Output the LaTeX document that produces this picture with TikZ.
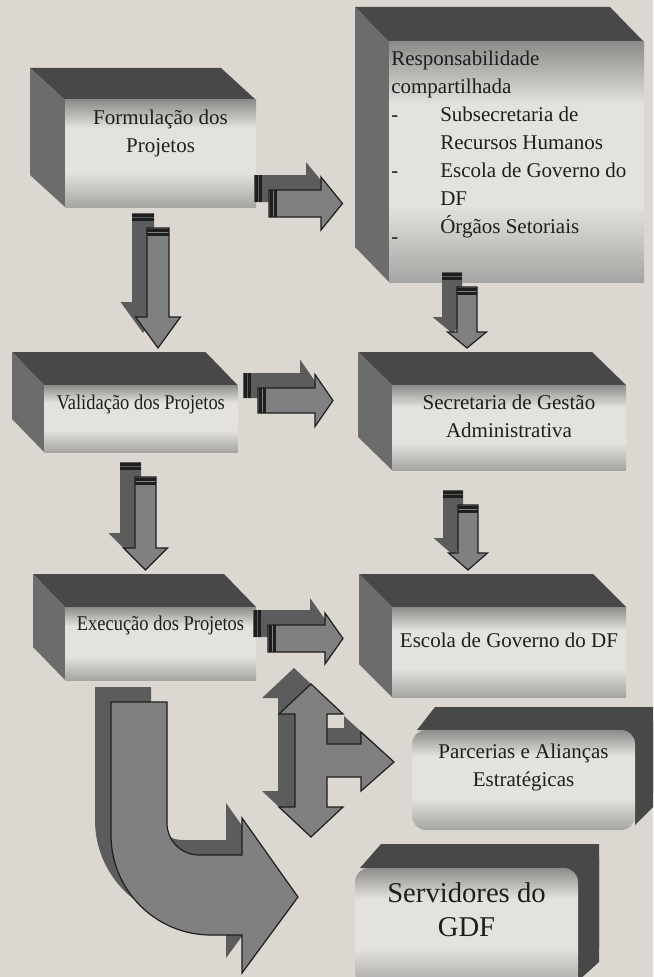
\documentclass[tikz,border=0pt]{standalone}
\usepackage{fontspec}
\setmainfont{Liberation Serif}
\newfontfamily\narrowfont{Liberation Serif}[FakeStretch=0.88]
\usepackage[HTML]{xcolor}
\usepackage{tikz}
\usetikzlibrary{calc}
\pgfdeclarelayer{back}
\pgfsetlayers{back,main}

\definecolor{bgpaper}{HTML}{DCD8D1}
\definecolor{topface}{HTML}{484848}
\definecolor{sideface}{HTML}{6C6C6C}
\definecolor{facetop}{HTML}{8C8C8A}
\definecolor{facemid}{HTML}{E4E2DE}
\definecolor{facebot}{HTML}{A5A5A3}
\definecolor{arrdark}{HTML}{5C5C5C}
\definecolor{arrmid}{HTML}{808080}
\definecolor{arrline}{HTML}{1E1E1E}
\definecolor{ink}{HTML}{1E1E1E}
\newcommand{\pxu}{0.75pt}
% light band in the middle of each front face
\pgfdeclareverticalshading{boxface}{100bp}{color(0bp)=(facebot); color(25bp)=(facebot);
  color(41bp)=(facemid); color(62bp)=(facemid); color(75bp)=(facetop); color(100bp)=(facetop)}

\tikzset{
  pics/blockarr/.style n args={4}{code={
    \path[pic actions] (0,-#2) -- (#1-#4,-#2) -- (#1-#4,-#3) -- (#1,0)
      -- (#1-#4,#3) -- (#1-#4,#2) -- (0,#2) -- cycle;
    \foreach \t in {1,5} \fill[arrline] (\t,-#2) rectangle ++(2.5,2*#2);
  }},
  pics/teearr/.style={code={
    \path[pic actions] (0,0) -- (32,30) -- (16,30) -- (16,60) -- (50,60) -- (50,48)
      -- (83,78) -- (50,107) -- (50,93) -- (16,93) -- (16,123) -- (32,123)
      -- (0,153) -- (-32,123) -- (-16,123) -- (-16,30) -- (-32,30) -- cycle;
  }},
  pics/uarr/.style={code={
    \path[pic actions] (0,0) -- (56,0) -- (56,121) arc (180:90:32) -- (131,153)
      -- (131,116) -- (187,195) -- (131,271) -- (131,233) -- (100,233)
      arc (90:180:100) -- cycle;
  }},
}

\begin{document}
\begin{tikzpicture}[x=0.75pt, y=-0.75pt,
  frontface/.style={shade, shading=boxface, inner sep=0, outer sep=0},
  boxtext/.style={text=ink, align=center, inner sep=0, font=\fontsize{15.75}{21}\selectfont},
  narrowtext/.style={font=\narrowfont\fontsize{15.75}{21}\selectfont},
  arrback/.style={fill=arrdark},
  arrfront/.style={fill=arrmid, draw=arrline, line width=0.9pt}]
\useasboundingbox (0,0) rectangle (653,977);
% front faces
\node[frontface, minimum width=191*\pxu, minimum height=107*\pxu] (form) at (160.5,153.5) {};
\node[frontface, minimum width=255*\pxu, minimum height=240*\pxu] (resp) at (516.5,162) {};
\node[frontface, minimum width=193.5*\pxu, minimum height=67*\pxu] (valid) at (140.75,418.5) {};
\node[frontface, minimum width=234*\pxu, minimum height=85*\pxu] (secr) at (509,427.5) {};
\node[frontface, minimum width=191*\pxu, minimum height=73*\pxu] (exec) at (160.5,643.5) {};
\node[frontface, minimum width=234*\pxu, minimum height=90*\pxu] (escola) at (509,652) {};
\node[frontface, rounded corners=10.5pt, minimum width=223*\pxu, minimum height=100*\pxu] (parc) at (523.5,780) {};
\node[frontface, rounded corners=10.5pt, minimum width=223*\pxu, minimum height=118*\pxu] (serv) at (466.5,927) {};
% texts
\node[boxtext] (formtxt) at ($(form)+(0,-20.3)$) {Formulação dos\\Projetos};
\node[boxtext, anchor=north west, align=left] (resptxt) at ($(resp.north west)+(2,9)$)
  {Responsabilidade\\compartilhada\\
   \makebox[36.75pt][l]{-}Subsecretaria de\\
   \hspace*{36.75pt}Recursos Humanos\\
   \makebox[36.75pt][l]{-}Escola de Governo do\\
   \hspace*{36.75pt}DF\\
   \makebox[36.75pt][l]{\raisebox{-7.5pt}{-}}Órgãos Setoriais};
\node[boxtext, narrowtext] (validtxt) at ($(valid)+(0,-14.5)$) {Validação dos Projetos};
\node[boxtext] (secrtxt) at ($(secr)+(0,-11.6)$) {Secretaria de Gestão\\Administrativa};
\node[boxtext, narrowtext] (exectxt) at ($(exec)+(0,-18.5)$) {Execução dos Projetos};
\node[boxtext] (escolatxt) at ($(escola)+(0,-12)$) {Escola de Governo do DF};
\node[boxtext] (parctxt) at ($(parc)+(0,-13)$) {Parcerias e Alianças\\Estratégicas};
\node[boxtext, font=\fontsize{21.5}{25.5}\selectfont] (servtxt) at ($(serv)+(0,-17)$) {Servidores do\\GDF};
% depth faces and paper
\begin{pgfonlayer}{back}
\fill[bgpaper] (0,0) rectangle (653,977);
\foreach \n/\dx/\dy in {form/-35/-32, resp/-34/-35, valid/-32/-33, secr/-34/-33, exec/-32/-33, escola/-33/-33} {
  \fill[topface] (\n.north west) -- ++(\dx,\dy) -- ($(\n.north east)+(\dx,\dy)$) -- (\n.north east) -- cycle;
  \fill[sideface] (\n.north west) -- ++(\dx,\dy) -- ($(\n.south west)+(\dx,\dy)$) -- (\n.south west) -- cycle;
}
\foreach \n/\dx/\dy in {parc/18/-23, serv/21/-24} {
  \fill[topface, rounded corners=10.5pt] ($(\n.north west)+(\dx,\dy)$) rectangle ($(\n.south east)+(\dx,\dy)$);
  \fill[topface] ($(\n.north west)+(5,0)$) -- ++(\dx,\dy) -- ($(\n.north east)+(\dx,\dy)$)
    -- ($(\n.south east)+(\dx,\dy)$) -- ($(\n.south east)+(0,-5)$) -- (\n.north east) -- cycle;
}
\end{pgfonlayer}
% block arrows, shadow first
\pic[arrback] at ($(form.east)+(-2,35)$) {blockarr={73.5}{13.5}{26.5}{21.5}};
\pic[arrfront] at ($(form.east)+(13,50)$) {blockarr={73.5}{13.5}{26.5}{21.5}};
\pic[arrback, rotate=-90] at ($(form.south)+(-17.5,6)$) {blockarr={120}{11}{22.5}{31}};
\pic[arrfront, rotate=-90] at ($(form.south)+(-2.5,21)$) {blockarr={120}{11}{22.5}{31}};
\pic[arrback, rotate=-90] at ($(resp.south)+(-64.5,-10)$) {blockarr={61}{10}{19.5}{16}};
\pic[arrfront, rotate=-90] at ($(resp.south)+(-49.5,5)$) {blockarr={61}{10}{19.5}{16}};
\pic[arrback] at ($(valid.east)+(5.5,-33)$) {blockarr={75}{12.5}{26}{18}};
\pic[arrfront] at ($(valid.east)+(20.5,-18)$) {blockarr={75}{12.5}{26}{18}};
\pic[arrback, rotate=-90] at ($(valid.south)+(-10.25,10)$) {blockarr={93}{10.5}{22}{22}};
\pic[arrfront, rotate=-90] at ($(valid.south)+(4.75,25)$) {blockarr={93}{10.5}{22}{22}};
\pic[arrback, rotate=-90] at ($(secr.south)+(-56,20)$) {blockarr={65}{10}{19.5}{17}};
\pic[arrfront, rotate=-90] at ($(secr.south)+(-41,35)$) {blockarr={65}{10}{19.5}{17}};
\pic[arrback] at ($(exec.east)+(-3,-20)$) {blockarr={75}{13.5}{25.5}{18}};
\pic[arrfront] at ($(exec.east)+(12,-5)$) {blockarr={75}{13.5}{25.5}{18}};
% three-way arrow and bent arrow
\coordinate (tee) at ($(exec.south east)+(55,4)$);
\pic[arrback] at ($(tee)+(-17,-16)$) {teearr};
\pic[arrfront] at (tee) {teearr};
\coordinate (bend) at ($(exec.south west)+(46,22)$);
\pic[arrback] at ($(bend)+(-16,-15)$) {uarr};
\pic[arrfront] at (bend) {uarr};
\end{tikzpicture}
\end{document}
